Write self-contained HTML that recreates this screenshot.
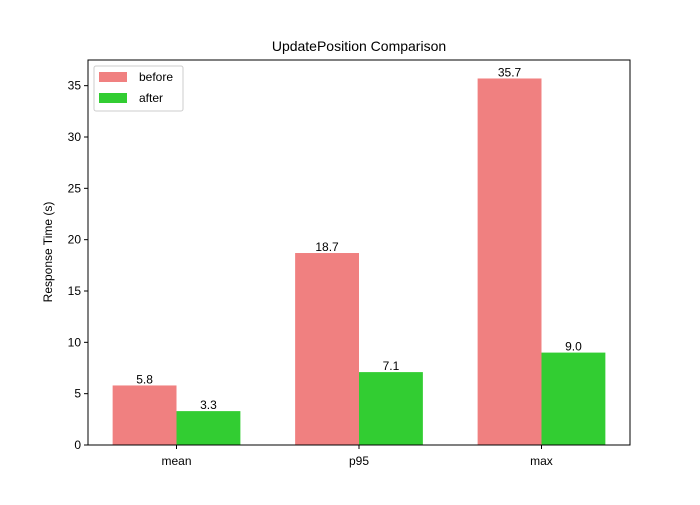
<!DOCTYPE html>
<html><head><meta charset="utf-8"><style>
body{margin:0;background:#fff}
svg text{font-family:"Liberation Sans","DejaVu Sans",sans-serif;fill:#000}
</style></head><body>
<svg id="chart" width="700" height="500" viewBox="0 0 700 500">
<rect width="700" height="500" fill="#fff"/>
<text x="359" y="51" font-size="14" text-anchor="middle">UpdatePosition Comparison</text>
<g id="bars"></g>
<g id="axes"></g>
<rect x="88" y="60" width="542" height="385" fill="none" stroke="#000" stroke-width="1"/>
<text transform="translate(52,252) rotate(-90)" font-size="12" text-anchor="middle">Response Time (s)</text>
<g>
<rect x="94" y="66" width="89" height="45" fill="#fff" stroke="#ccc" rx="2"/>
<rect x="99" y="72" width="28" height="10" fill="#f08080"/>
<text x="139" y="81" font-size="12">before</text>
<rect x="99" y="93" width="28" height="10" fill="#32cd32"/>
<text x="139" y="102" font-size="12">after</text>
</g>
</svg>
<script>
const categories=["mean","p95","max"];
const beforeValues=[5.8,18.7,35.7];
const afterValues=[3.3,7.1,9.0];
const yTicks=[0,5,10,15,20,25,30,35];
const NS="http://www.w3.org/2000/svg";
const X0=88,X1=630,Y0=445,Y1=60,XMIN=-0.485,XMAX=2.485,YMAX=37.5;
const xs=v=>X0+(v-XMIN)/(XMAX-XMIN)*(X1-X0);
const ys=v=>Y0-v/YMAX*(Y0-Y1);
const bw=0.35;
function mk(t,a,p){const e=document.createElementNS(NS,t);for(const k in a)e.setAttribute(k,a[k]);p.appendChild(e);return e;}
const bars=document.getElementById('bars'),axes=document.getElementById('axes');
function series(vals,off,color,name){
vals.forEach((v,i)=>{
const x=xs(i+off-bw/2),w=xs(i+off+bw/2)-x;
const r=mk('rect',{x:x,y:ys(v),width:w,height:Y0-ys(v),fill:color},bars);


const t=mk('text',{x:xs(i+off),y:ys(v)-2,'font-size':12,'text-anchor':'middle'},bars);
t.textContent=v.toFixed(1);


});}
series(beforeValues,-bw/2,'#f08080','before');
series(afterValues,bw/2,'#32cd32','after');
yTicks.forEach(v=>{
const y=ys(v);
mk('line',{x1:X0-4,x2:X0,y1:y,y2:y,stroke:'#000'},axes);
const t=mk('text',{x:X0-7,y:y+4,'font-size':12,'text-anchor':'end'},axes);
t.textContent=v;


});
categories.forEach((c,i)=>{
const x=xs(i);
mk('line',{x1:x,x2:x,y1:Y0,y2:Y0+4,stroke:'#000'},axes);
const t=mk('text',{x:x,y:Y0+20,'font-size':12,'text-anchor':'middle'},axes);
t.textContent=c;


});
</script>
</body></html>
